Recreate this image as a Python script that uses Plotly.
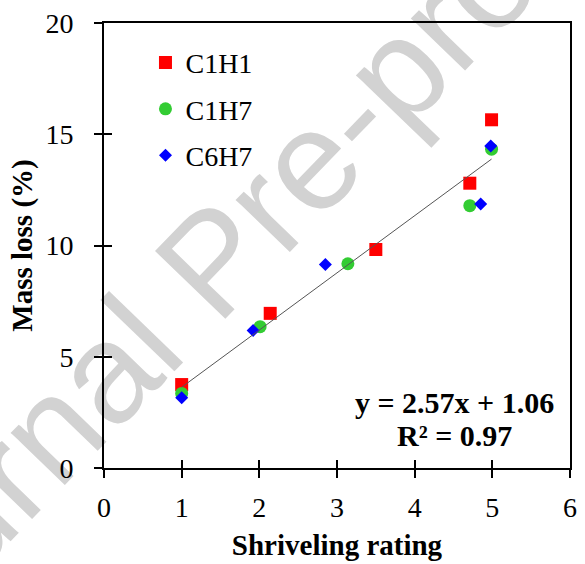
import plotly.graph_objects as go

# Shriveling rating vs. mass loss for three storage treatments
series_names = ["C1H1", "C1H7", "C6H7"]
c1h1_x = [1.0, 2.14, 3.50, 4.71, 4.99]
c1h1_y = [3.75, 6.95, 9.82, 12.80, 15.65]
c1h7_x = [1.0, 2.01, 3.14, 4.71, 4.99]
c1h7_y = [3.35, 6.35, 9.18, 11.79, 14.33]
c6h7_x = [1.0, 1.92, 2.85, 4.85, 4.98]
c6h7_y = [3.16, 6.18, 9.15, 11.86, 14.47]

# Linear fit over all points
fit_slope = 2.57
fit_intercept = 1.06
fit_r2 = 0.97

x_ticks = [0, 1, 2, 3, 4, 5, 6]
y_ticks = [0, 5, 10, 15, 20]

SERIF = "Liberation Serif, Times New Roman, serif"

fig = go.Figure()

styles = [
    dict(symbol="square", size=13, color="#ff0000"),
    dict(symbol="circle", size=13, color="#33cc33"),
    dict(symbol="diamond", size=10, color="#0000ff"),
]
for name, xs, ys, st in zip(series_names, [c1h1_x, c1h7_x, c6h7_x],
                            [c1h1_y, c1h7_y, c6h7_y], styles):
    fig.add_trace(go.Scatter(
        x=xs, y=ys, mode="markers", name=name, legendgroup=name,
        marker=dict(symbol=st["symbol"], size=st["size"], color=st["color"],
                    line=dict(width=0)),
        cliponaxis=False,
    ))

# Trend line across the rating range of the data
all_x = c1h1_x + c1h7_x + c6h7_x
fx = [min(all_x), max(all_x)]
fy = [fit_slope * v + fit_intercept for v in fx]
fig.add_trace(go.Scatter(
    x=fx, y=fy, mode="lines", showlegend=False,
    line=dict(color="#555555", width=1), hoverinfo="skip",
))

axis_common = dict(
    showgrid=False, zeroline=False, showline=True, linecolor="black",
    linewidth=2, mirror=True, ticks="outside", ticklen=8, tickwidth=2,
    tickcolor="black", tickfont=dict(family=SERIF, size=28, color="black"),
)

fig.update_layout(
    width=585, height=564,
    margin=dict(l=104, r=8, t=23, b=95),
    paper_bgcolor="white", plot_bgcolor="rgba(0,0,0,0)",
    xaxis=dict(range=[0, 6], tickvals=x_ticks, ticklabelstandoff=5, **axis_common,
               title=dict(text="<b>Shriveling rating</b>", standoff=13,
                          font=dict(family=SERIF, size=29, color="black"))),
    yaxis=dict(range=[0, 20], tickvals=y_ticks, ticklabelstandoff=15, **axis_common,
               title=dict(text="<b>Mass loss (%)</b>", standoff=4,
                          font=dict(family=SERIF, size=29, color="black"))),
    # inner halves of the crossing tick marks
    xaxis2=dict(range=[0, 6], tickvals=x_ticks, overlaying="x", anchor="y",
                showticklabels=False, showgrid=False, zeroline=False,
                ticks="inside", ticklen=8, tickwidth=2, tickcolor="black",
                showline=False),
    yaxis2=dict(range=[0, 20], tickvals=y_ticks, overlaying="y", anchor="x",
                showticklabels=False, showgrid=False, zeroline=False,
                ticks="inside", ticklen=8, tickwidth=2, tickcolor="black",
                showline=False),
    legend=dict(x=0.089, y=0.967, xanchor="left", yanchor="top",
                bgcolor="rgba(0,0,0,0)", traceorder="grouped",
                tracegroupgap=7, itemwidth=30,
                font=dict(family=SERIF, size=28, color="black")),
    showlegend=True,
)

# dummy trace to activate the overlay axes
fig.add_trace(go.Scatter(x=[None], y=[None], xaxis="x2", yaxis="y2",
                         showlegend=False, hoverinfo="skip"))

# Regression equation
fig.add_annotation(
    x=0.752, y=0.148, xref="paper", yref="paper", xanchor="center", yanchor="middle",
    text=f"<b>y = {fit_slope:.2f}x + {fit_intercept:.2f}</b>", showarrow=False,
    font=dict(family=SERIF, size=30, color="black"),
)
fig.add_annotation(
    x=0.752, y=0.072, xref="paper", yref="paper", xanchor="center", yanchor="middle",
    text=f"<b>R² = {fit_r2:.2f}</b>", showarrow=False,
    font=dict(family=SERIF, size=30, color="black"),
)

# Watermark behind the data
fig.add_shape(
    type="rect", xref="paper", yref="paper",
    x0=0.206, x1=0.216, y0=0.479, y1=0.489,
    line=dict(width=0), fillcolor="rgba(0,0,0,0)", layer="below",
    label=dict(text="Journal Pre-proof", textangle=-46,
               textposition="middle center",
               font=dict(family="Liberation Sans, Arial, sans-serif",
                         size=142, color="#d2d2d2")),
)

fig.write_html("out.html")
